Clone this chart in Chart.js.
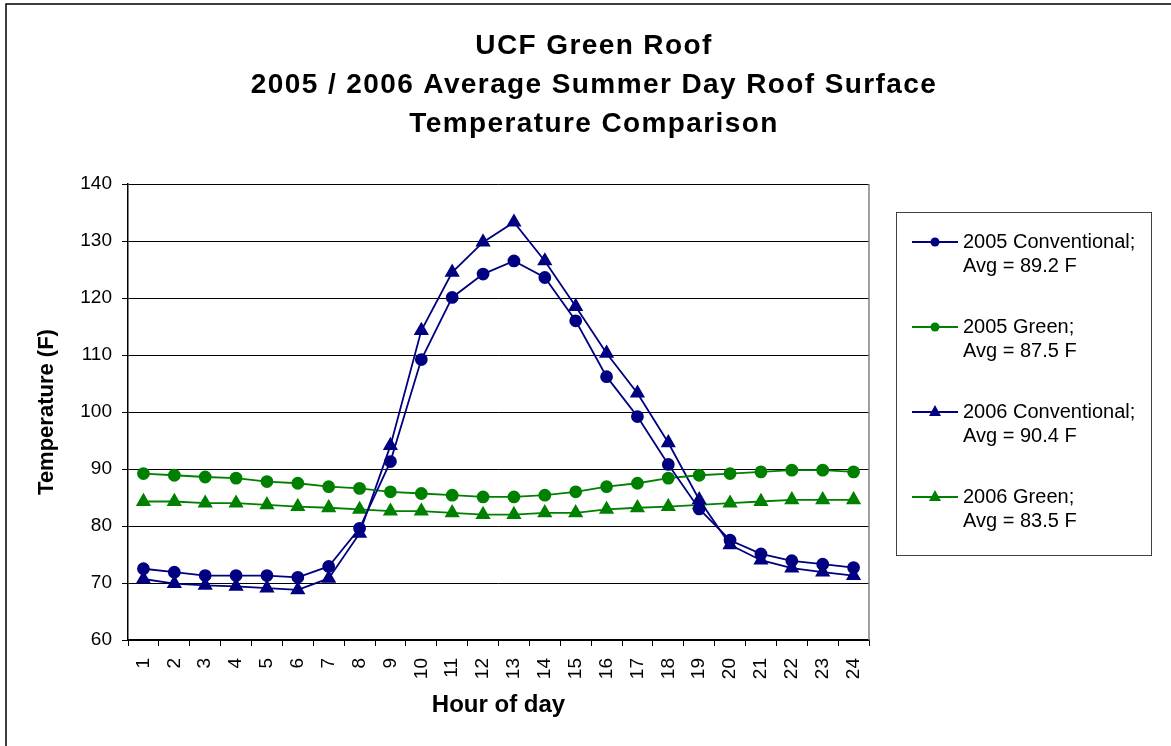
<!DOCTYPE html>
<html>
<head>
<meta charset="utf-8">
<script src="https://cdn.jsdelivr.net/npm/chart.js@4/dist/chart.umd.min.js"></script>
<style>
  html, body { margin: 0; padding: 0; background: #fff; }
  #wrap { width: 1171px; height: 746px; position: relative; }
</style>
</head>
<body>
<div id="wrap"><canvas id="roofChart"></canvas></div>
<script>
const hours = ['1', '2', '3', '4', '5', '6', '7', '8', '9', '10', '11', '12',
               '13', '14', '15', '16', '17', '18', '19', '20', '21', '22', '23', '24'];

const conv2005 = [72.5, 71.9, 71.3, 71.3, 71.3, 71.0, 72.9, 79.6, 91.3, 109.2, 120.1, 124.2,
                  126.5, 123.6, 116.0, 106.2, 99.2, 90.8, 83.0, 77.5, 75.1, 73.9, 73.3, 72.7];
const green2005 = [89.2, 88.9, 88.6, 88.4, 87.8, 87.5, 86.9, 86.6, 86.0, 85.7, 85.4, 85.1,
                   85.1, 85.4, 86.0, 86.9, 87.5, 88.4, 88.9, 89.2, 89.5, 89.8, 89.8, 89.5];
const conv2006 = [70.7, 69.9, 69.6, 69.4, 69.1, 68.8, 70.8, 78.7, 94.1, 114.3, 124.5, 129.8,
                  133.3, 126.5, 118.5, 110.3, 103.3, 94.6, 84.6, 76.7, 74.0, 72.6, 71.9, 71.3];
const green2006 = [84.3, 84.3, 84.0, 84.0, 83.7, 83.4, 83.2, 82.9, 82.6, 82.6, 82.3, 82.0,
                   82.0, 82.3, 82.3, 82.9, 83.2, 83.4, 83.7, 84.0, 84.3, 84.6, 84.6, 84.6];

const seriesNames = ['2005 Conventional;', '2005 Green;', '2006 Conventional;', '2006 Green;'];
const seriesAvgs = ['Avg = 89.2 F', 'Avg = 87.5 F', 'Avg = 90.4 F', 'Avg = 83.5 F'];
const titleLines = ['UCF Green Roof', '2005 / 2006 Average Summer Day Roof Surface', 'Temperature Comparison'];

const NAVY = '#000080';
const GREEN = '#008000';
const FONT = '"Liberation Sans", Arial, sans-serif';

function series(label, data, color, shape) {
    return {
        label: label,
        data: data,
        borderColor: color,
        backgroundColor: color,
        borderWidth: 1.8,
        pointStyle: shape,
        pointRadius: shape === 'triangle' ? 7 : 5.5,
        pointHoverRadius: shape === 'triangle' ? 7 : 5.5,
        tension: 0
    };
}

// title, frame, right plot border and the two-line legend box
const extras = {
    id: 'extras',
    afterDraw(chart) {
        const ctx = chart.ctx;
        const area = chart.chartArea;
        ctx.save();

        ctx.strokeStyle = '#000';
        ctx.lineWidth = 1.5;
        ctx.beginPath();
        ctx.moveTo(6, 746);
        ctx.lineTo(6, 4);
        ctx.lineTo(1171, 4);
        ctx.stroke();

        ctx.strokeStyle = '#808080';
        ctx.lineWidth = 1.5;
        ctx.beginPath();
        ctx.moveTo(area.right, area.top);
        ctx.lineTo(area.right, area.bottom);
        ctx.stroke();

        ctx.fillStyle = '#000';
        ctx.font = 'bold 28px ' + FONT;
        ctx.letterSpacing = '1.4px';
        ctx.textAlign = 'center';
        ctx.textBaseline = 'middle';
        titleLines.forEach((t, i) => ctx.fillText(t, 594, 46 + i * 39));
        ctx.letterSpacing = '0px';

        ctx.strokeStyle = '#404040';
        ctx.lineWidth = 1;
        ctx.strokeRect(896.5, 212.5, 255, 343);

        ctx.font = '20px ' + FONT;
        ctx.textAlign = 'left';
        chart.data.datasets.forEach((ds, i) => {
            const y = 242 + i * 85;
            ctx.strokeStyle = ds.borderColor;
            ctx.lineWidth = 1.8;
            ctx.beginPath();
            ctx.moveTo(912, y);
            ctx.lineTo(958, y);
            ctx.stroke();
            ctx.fillStyle = ds.borderColor;
            ctx.beginPath();
            if (ds.pointStyle === 'triangle') {
                ctx.moveTo(935, y - 7);
                ctx.lineTo(941, y + 4);
                ctx.lineTo(929, y + 4);
                ctx.closePath();
            } else {
                ctx.arc(935, y, 4.5, 0, Math.PI * 2);
            }
            ctx.fill();
            ctx.fillStyle = '#000';
            ctx.fillText(seriesNames[i], 963, y);
            ctx.fillText(seriesAvgs[i], 963, y + 24.5);
        });
        ctx.restore();
    }
};

new Chart(document.getElementById('roofChart'), {
    type: 'line',
    data: {
        labels: hours,
        datasets: [
            series(seriesNames[0], conv2005, NAVY, 'circle'),
            series(seriesNames[1], green2005, GREEN, 'circle'),
            series(seriesNames[2], conv2006, NAVY, 'triangle'),
            series(seriesNames[3], green2006, GREEN, 'triangle')
        ]
    },
    options: {
        responsive: true,
        maintainAspectRatio: false,
        animation: false,
        layout: { padding: { top: 184, right: 302, left: 0, bottom: 0 } },
        plugins: {
            legend: { display: false },
            title: { display: false },
            tooltip: { enabled: false }
        },
        scales: {
            x: {
                offset: true,
                afterFit: s => { s.height = 106; },
                grid: { offset: true, drawOnChartArea: false, drawTicks: true, tickLength: 6, color: '#000' },
                border: { color: '#000', width: 1.5 },
                ticks: {
                    color: '#000', font: { family: FONT, size: 19 },
                    minRotation: 90, maxRotation: 90, padding: 12, autoSkip: false
                },
                title: {
                    display: true, text: 'Hour of day', color: '#000',
                    font: { family: FONT, size: 24, weight: 'bold' },
                    padding: { top: 0, bottom: 26 }
                }
            },
            y: {
                min: 60,
                max: 140,
                afterFit: s => { s.width = 128; },
                grid: { color: '#000', lineWidth: 1, drawTicks: true, tickLength: 6 },
                border: { color: '#000', width: 1.5 },
                ticks: {
                    stepSize: 10, color: '#000', padding: 10,
                    font: { family: FONT, size: 19 }
                },
                title: {
                    display: true, text: 'Temperature (F)', color: '#000',
                    font: { family: FONT, size: 22, weight: 'bold' },
                    padding: { top: 34, bottom: 0 }
                }
            }
        }
    },
    plugins: [extras]
});
</script>
</body>
</html>
